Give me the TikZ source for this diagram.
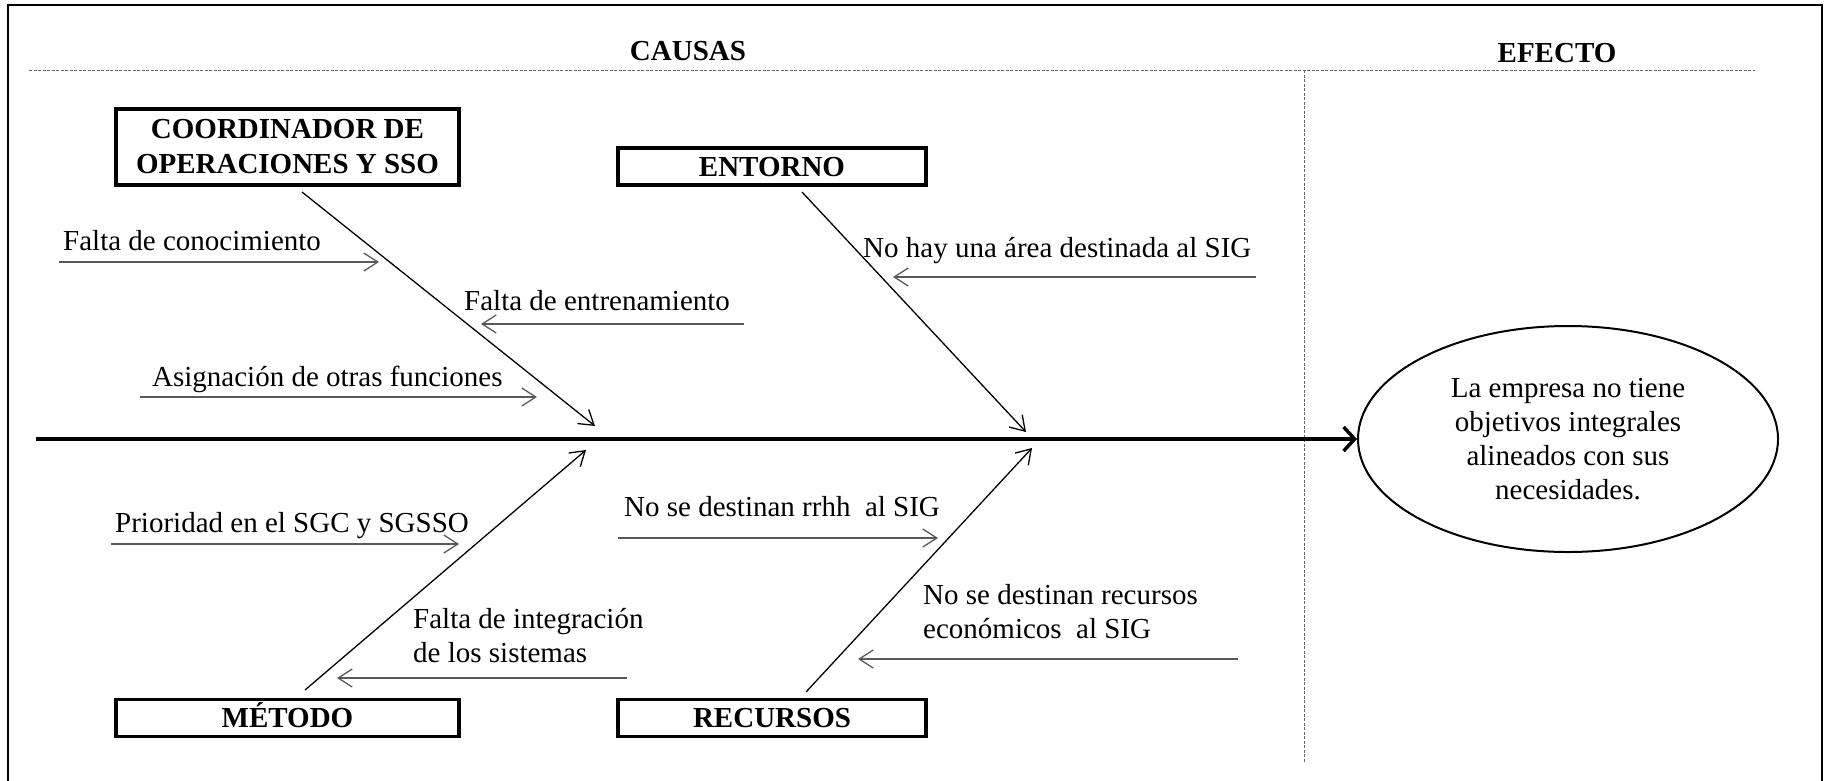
\documentclass[tikz,border=0pt]{standalone}
\usepackage{fontspec}
\setmainfont{Liberation Serif}
\usetikzlibrary{arrows.meta,shapes.geometric}
\begin{document}
\begin{tikzpicture}[x=1pt,y=-1pt,
  every node/.style={font=\fontsize{29}{34}\selectfont, inner sep=0pt},
  catbox/.style={draw, line width=3.5pt, font=\fontsize{29}{35}\selectfont\bfseries, align=center, inner sep=0pt},
  oneline/.style={text height=19pt, text depth=0pt},
  head/.style={anchor=base, font=\fontsize{29}{34}\selectfont\bfseries},
  lbl/.style={anchor=base west, align=left},
  bone/.style={line width=1.3pt, -{Straight Barb[length=14pt,width=18pt]}},
  sub/.style={line width=1.3pt, draw=black!65, -{Straight Barb[length=14pt,width=18pt]}},
  guide/.style={draw=black!60, line width=1pt, dash pattern=on 3pt off 1.5pt},
  spine/.style={line width=3.5pt, -{Straight Barb[length=11pt,width=24pt]}}
]
\useasboundingbox (0,0) rectangle (1830,780);
% frame
\draw[line width=2.5pt] (8,781) -- (8,5) -- (1822,5) -- (1822,781);
% headers
\node[head] (causas) at (688,60) {CAUSAS};
\node[head] (efecto) at (1557,62) {EFECTO};
\coordinate (gl) at (29,70);
\coordinate (gr) at (1755,70);
\coordinate (vt) at (1304,70);
\coordinate (vb) at (1304,762);
\draw[guide] (gl) -- (gr);
\draw[guide] (vt) -- (vb);
% category boxes
\node[catbox, minimum width=343pt, minimum height=76pt] (coord) at (287.5,147) {COORDINADOR DE\\OPERACIONES Y SSO};
\node[catbox, oneline, minimum width=308pt, minimum height=37pt] (entorno) at (772,166.5) {ENTORNO};
\node[catbox, oneline, minimum width=343pt, minimum height=37pt] (metodo) at (287.5,718) {MÉTODO};
\node[catbox, oneline, minimum width=308pt, minimum height=37pt] (recursos) at (772,718) {RECURSOS};
% effect
\node[draw, ellipse, line width=2pt, minimum width=420pt, minimum height=226pt, align=center] (eff) at (1568,439)
  {La empresa no tiene\\objetivos integrales\\alineados con sus\\necesidades.};
% spine
\coordinate (sp) at (36,439);
\draw[spine] (sp) -- (eff.west);
% bones
\coordinate (b1s) at (302,192); \coordinate (b1e) at (595,426);
\coordinate (b2s) at (802,192); \coordinate (b2e) at (1026,432);
\coordinate (b3s) at (305,690); \coordinate (b3e) at (586,450);
\coordinate (b4s) at (806,692); \coordinate (b4e) at (1032,448);
\draw[bone] (b1s) -- (b1e);
\draw[bone] (b2s) -- (b2e);
\draw[bone] (b3s) -- (b3e);
\draw[bone] (b4s) -- (b4e);
% cause labels (anchor = baseline of the last line)
\node[lbl] (conoc) at (63,250) {Falta de conocimiento};
\node[lbl] (entren) at (464,310) {Falta de entrenamiento};
\node[lbl] (asign) at (152,386) {Asignación de otras funciones};
\node[lbl] (nohay) at (863,257) {No hay una área destinada al SIG};
\node[lbl] (priori) at (115,532) {Prioridad en el SGC y SGSSO};
\node[lbl] (rrhh) at (624,516) {No se destinan rrhh\ \ al SIG};
\node[lbl] (integ) at (413,662) {Falta de integración\\de los sistemas};
\node[lbl] (recur) at (923,638) {No se destinan recursos\\económicos\ \ al SIG};
% cause arrows
\coordinate (s1a) at (59,262);   \coordinate (s1b) at (379,262);
\coordinate (s2a) at (744,324);  \coordinate (s2b) at (481,324);
\coordinate (s3a) at (140,397);  \coordinate (s3b) at (537,397);
\coordinate (s4a) at (1256,277); \coordinate (s4b) at (893,277);
\coordinate (s5a) at (111,544);  \coordinate (s5b) at (459,544);
\coordinate (s6a) at (618,538);  \coordinate (s6b) at (938,538);
\coordinate (s7a) at (627,678);  \coordinate (s7b) at (337,678);
\coordinate (s8a) at (1238,659); \coordinate (s8b) at (858,659);
\draw[sub] (s1a) -- (s1b);
\draw[sub] (s2a) -- (s2b);
\draw[sub] (s3a) -- (s3b);
\draw[sub] (s4a) -- (s4b);
\draw[sub] (s5a) -- (s5b);
\draw[sub] (s6a) -- (s6b);
\draw[sub] (s7a) -- (s7b);
\draw[sub] (s8a) -- (s8b);
\end{tikzpicture}
\end{document}
